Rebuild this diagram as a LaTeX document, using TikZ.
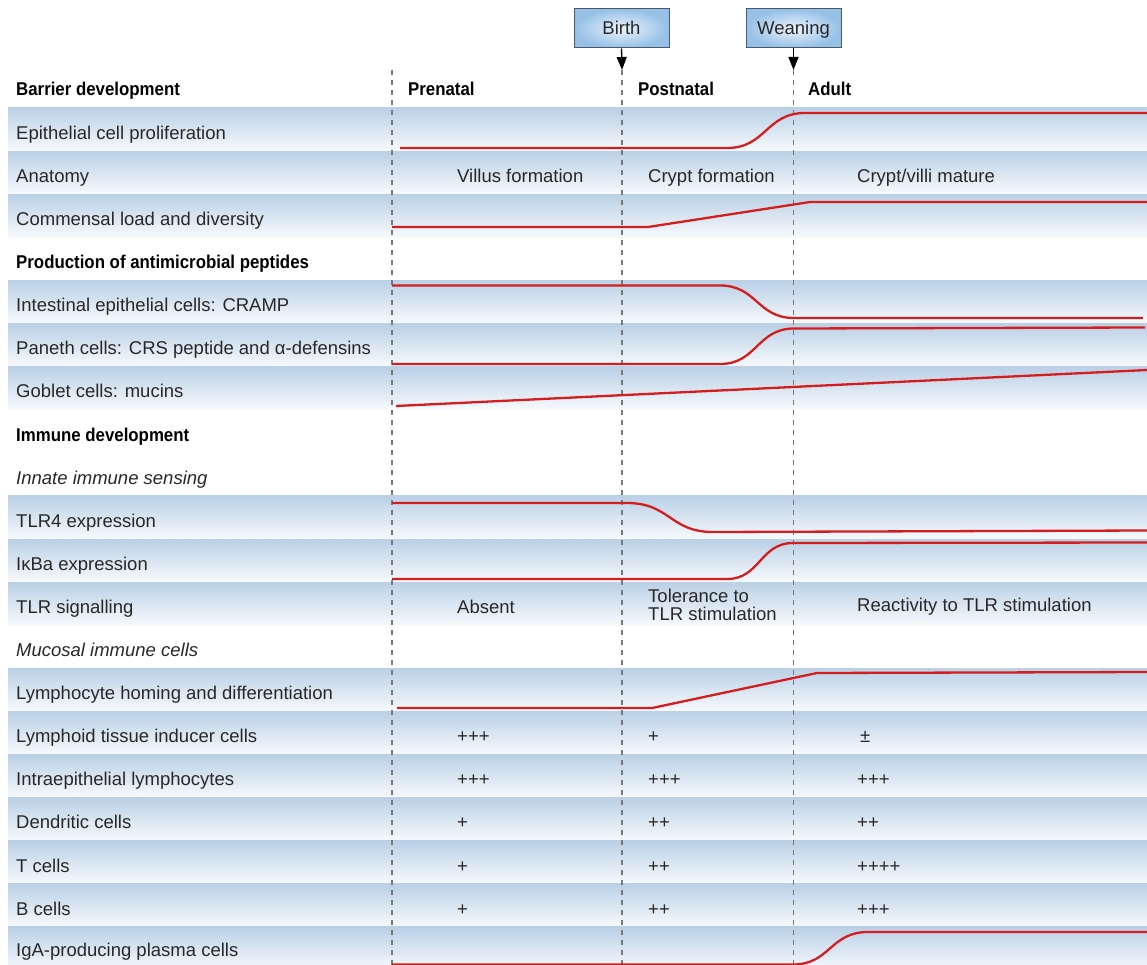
\documentclass[tikz,border=0pt]{standalone}
\usepackage{fontspec}
\setmainfont{Liberation Sans}[BoldFeatures={FakeStretch=0.91}]
\usetikzlibrary{arrows.meta}
\definecolor{rowtop}{RGB}{186,208,230}
\definecolor{rowbot}{RGB}{247,250,253}
\definecolor{redline}{RGB}{212,30,30}
\definecolor{txt}{RGB}{40,40,40}
\definecolor{dashgray}{RGB}{120,120,120}
\definecolor{boxborder}{RGB}{70,88,108}
\definecolor{boxout}{RGB}{150,192,230}
\definecolor{boxin}{RGB}{235,244,252}
\begin{document}
\begin{tikzpicture}[x=1pt,y=-1pt,
  lbl/.style={anchor=base west, inner sep=0pt, text=txt, font=\fontsize{18.5}{21}\selectfont},
  hd/.style={lbl, text=black, font=\fontsize{18.5}{21}\selectfont\bfseries},
  itl/.style={lbl, font=\fontsize{18.5}{21}\selectfont\itshape},
  curve/.style={draw=redline, line width=2.3pt},
  vline/.style={draw=dashgray, dash pattern=on 5pt off 5pt, line width=1.2pt},
  evbox/.style={draw=boxborder, line width=1pt, inner color=boxin, outer color=boxout,
    minimum width=95pt, minimum height=39pt, inner sep=0pt, text height=14pt, text depth=1pt,
    text=txt, font=\fontsize{18.5}{21}\selectfont},
  arr/.style={draw=black, line width=1.3pt, -{Triangle[length=13pt,width=10pt]}}]
\useasboundingbox (0,0) rectangle (1147,965);
\clip (0,0) rectangle (1147,965);
\fill[white] (0,0) rectangle (1147,965);

% shaded rows
\foreach \k in {0,1,2,4,5,6,9,10,11,13,14,15,16,17,18,19}{
  \shade[top color=rowtop, bottom color=rowbot] (8,{108+43.1*\k}) rectangle (1147,{108+43.1*(\k+1)});
}

% event boxes
\node[evbox] (birth) at (621.5,28.5) {Birth};
\node[evbox] (wean) at (793.5,28.5) {Weaning};

% vertical dashed lines
\coordinate (pre0) at (392,70);
\coordinate (pre1) at (392,965);
\coordinate (bt) at (622,70);
\coordinate (b1) at (622,965);
\coordinate (wt) at (793.5,70);
\coordinate (w1) at (793.5,965);
\draw[vline] (pre0) -- (pre1);
\draw[vline] (bt) -- (b1);
\draw[vline] (wt) -- (w1);
\draw[arr] (birth.south) -- (bt);
\draw[arr] (wean.south) -- (wt);

% headings
\node[hd] (h0) at (16,95.6) {Barrier development};
\node[hd] (cpre) at (408,95.6) {Prenatal};
\node[hd] (cpost) at (638,95.6) {Postnatal};
\node[hd] (cad) at (808,95.6) {Adult};

% row labels
\node[lbl] (r0) at (16,139.3) {Epithelial cell proliferation};
\node[lbl] (r1) at (16,182.4) {Anatomy};
\node[lbl] (r2) at (16,225.5) {Commensal load and diversity};
\node[hd]  (r3) at (16,268.6) {Production of antimicrobial peptides};
\node[lbl] (r4) at (16,311.7) {Intestinal epithelial cells: CRAMP};
\node[lbl] (r5) at (16,354.8) {Paneth cells: CRS peptide and α-defensins};
\node[lbl] (r6) at (16,397.9) {Goblet cells: mucins};
\node[hd]  (r7) at (16,441) {Immune development};
\node[itl] (r8) at (16,484.1) {Innate immune sensing};
\node[lbl] (r9) at (16,527.2) {TLR4 expression};
\node[lbl] (r10) at (16,570.3) {IκBa expression};
\node[lbl] (r11) at (16,613.4) {TLR signalling};
\node[itl] (r12) at (16,656.5) {Mucosal immune cells};
\node[lbl] (r13) at (16,699.6) {Lymphocyte homing and differentiation};
\node[lbl] (r14) at (16,742.7) {Lymphoid tissue inducer cells};
\node[lbl] (r15) at (16,785.8) {Intraepithelial lymphocytes};
\node[lbl] (r16) at (16,828.9) {Dendritic cells};
\node[lbl] (r17) at (16,872) {T cells};
\node[lbl] (r18) at (16,915.1) {B cells};
\node[lbl] (r19) at (16,956.5) {IgA-producing plasma cells};

% anatomy
\node[lbl] (a1) at (457,182.4) {Villus formation};
\node[lbl] (a2) at (648,182.4) {Crypt formation};
\node[lbl] (a3) at (857,182.4) {Crypt/villi mature};

% TLR signalling
\node[lbl] (t1) at (457,613.4) {Absent};
\node[lbl] (t2a) at (648,602.7) {Tolerance to};
\node[lbl] (t2b) at (648,620) {TLR stimulation};
\node[lbl] (t3) at (857,611) {Reactivity to TLR stimulation};

% cell values
\node[lbl] (v14a) at (457,742.7) {+++};
\node[lbl] (v14b) at (648,742.7) {+};
\node[lbl] (v14c) at (860,742.7) {±};
\node[lbl] (v15a) at (457,785.8) {+++};
\node[lbl] (v15b) at (648,785.8) {+++};
\node[lbl] (v15c) at (857,785.8) {+++};
\node[lbl] (v16a) at (457,828.9) {+};
\node[lbl] (v16b) at (648,828.9) {++};
\node[lbl] (v16c) at (857,828.9) {++};
\node[lbl] (v17a) at (457,872) {+};
\node[lbl] (v17b) at (648,872) {++};
\node[lbl] (v17c) at (857,872) {++++};
\node[lbl] (v18a) at (457,915.1) {+};
\node[lbl] (v18b) at (648,915.1) {++};
\node[lbl] (v18c) at (857,915.1) {+++};

% red curves
\draw[curve] (400,148) -- (727,148) .. controls (766,148) and (766,113) .. (805,113) -- (1147,113);
\draw[curve] (392,227) -- (648,227) -- (810,202) -- (1147,202);
\draw[curve] (392,285.5) -- (720,285.5) .. controls (757,285.5) and (757,318) .. (794,318) -- (1143,318);
\draw[curve] (392,364) -- (720,364) .. controls (757,364) and (757,328.5) .. (794,328.5) -- (1145,327.5);
\draw[curve] (396,406) -- (1147,370);
\draw[curve] (392,503) -- (627,503) .. controls (670,503) and (670,532) .. (713,532) -- (1147,530.5);
\draw[curve] (392,579) -- (727,579) .. controls (760,579) and (760,543) .. (793,543) -- (1147,542.5);
\draw[curve] (397,708) -- (652,708) -- (817,673) -- (1147,672);
\draw[curve] (392,964.5) -- (793,964.5) .. controls (830,964.5) and (830,932) .. (868,932) -- (1147,932);
\end{tikzpicture}
\end{document}
